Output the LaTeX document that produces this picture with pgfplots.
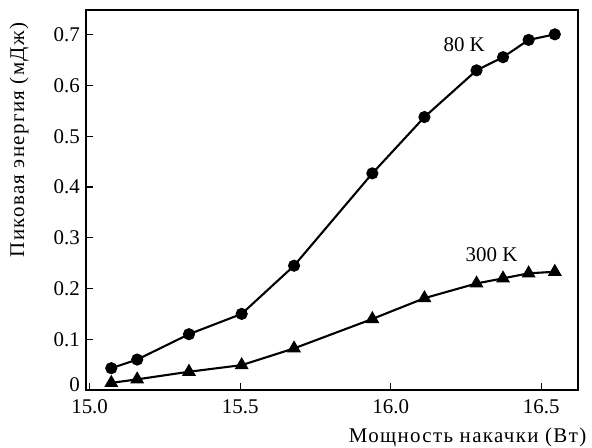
\documentclass[border=0pt]{standalone}
\usepackage{pgfplots}
\pgfplotsset{compat=1.18}
\usepackage{fontspec}
\setmainfont{Liberation Serif}
\begin{document}
\begin{tikzpicture}[x=1bp,y=1bp]
\path[use as bounding box] (-86,-58) rectangle (506,390);
\begin{axis}[
  at={(0,0)}, anchor=origin,
  scale only axis,
  width=492bp, height=380bp,
  xmin=14.988, xmax=16.622,
  ymin=0, ymax=0.749,
  axis line style={line width=1.6pt, -},
  tick style={line width=1.3pt, black},
  tick align=inside,
  xtick pos=bottom, ytick pos=left,
  major tick length=7bp,
  xtick={15.0,15.5,16.0,16.5},
  ytick={0,0.1,0.2,0.3,0.4,0.5,0.6,0.7},
  yticklabels={\raisebox{5bp}[\height][0pt]{0},0.1,0.2,0.3,0.4,0.5,0.6,0.7},
  xticklabel style={/pgf/number format/fixed,/pgf/number format/fixed zerofill,/pgf/number format/precision=1, inner sep=1bp, yshift=-8bp},
  /pgf/number format/assume math mode=true,
  ticklabel style={font=\fontsize{21}{21}\selectfont},
  yticklabel style={inner sep=1bp, xshift=-5bp},
  xlabel={Мощность накачки (Вт)},
  ylabel={Пиковая энергия (мДж)},
  label style={font=\fontsize{21}{21}\selectfont\addfontfeature{LetterSpace=6.5}},
  xlabel style={at={(axis description cs:1.024,0)}, anchor=north east, yshift=-34bp},
  ylabel style={at={(axis description cs:0,0.658)}, anchor=south, yshift=54bp},
  clip=false,
]
\addplot[black, line width=2.1pt, mark=*, mark size=5bp] coordinates {
(15.072,0.043) (15.158,0.060) (15.330,0.110) (15.505,0.150) (15.679,0.245)
(15.939,0.427) (16.112,0.538) (16.285,0.630) (16.373,0.656) (16.458,0.690) (16.545,0.701)
};
\addplot[black, line width=2.1pt, mark=triangle*, mark size=6bp] coordinates {
(15.072,0.014) (15.158,0.021) (15.330,0.036) (15.505,0.049) (15.679,0.082)
(15.939,0.140) (16.112,0.181) (16.285,0.210) (16.373,0.220) (16.458,0.230) (16.545,0.233)
};
\node[font=\fontsize{21}{21}\selectfont] at (axis cs:16.244,0.680) {80 K};
\node[font=\fontsize{21}{21}\selectfont] at (axis cs:16.335,0.266) {300 K};
\end{axis}
\end{tikzpicture}
\end{document}
